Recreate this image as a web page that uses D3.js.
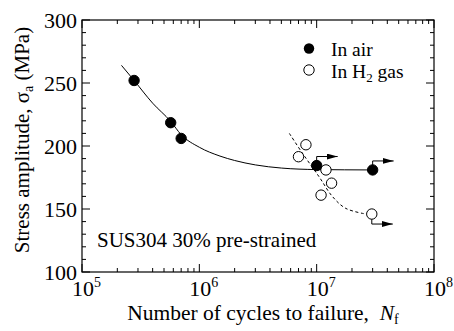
<!DOCTYPE html>
<html><head><meta charset="utf-8">
<script src="https://cdn.jsdelivr.net/npm/d3@7"></script>
<style>body{margin:0;background:#fff}svg{display:block}</style>
</head><body><svg id="c" width="454" height="331" font-family="'Liberation Serif', 'Times New Roman', Times, serif"></svg>
<script>
// Data
const airCycles = [2.78e5, 5.7e5, 7.0e5, 1.0e7, 3.0e7];
const airStress = [252, 218.5, 206, 184.5, 181];
const airRunout = [false, false, false, true, true];
const h2Cycles = [7.0e6, 8.1e6, 1.2e7, 1.34e7, 1.09e7, 2.95e7];
const h2Stress = [191.5, 201, 181, 170.5, 161, 146];
const h2Runout = [false, false, false, false, false, true];
// fitted curves
const airFitCycles = [2.17e5, 2.78e5, 4.0e5, 5.7e5, 7.0e5, 1.0e6, 1.5e6, 2.0e6, 3.0e6, 5.0e6, 1.0e7, 3.0e7];
const airFitStress = [264, 252, 234, 219.5, 209, 199, 192, 188.5, 185, 182.5, 181.3, 181];
const h2FitCycles = [5.85e6, 7.6e6, 1.05e7, 1.36e7, 1.77e7, 2.63e7];
const h2FitStress = [210, 194, 175.5, 160, 150.5, 146];
const yTicks = [100, 150, 200, 250, 300];
const xTickExp = [5, 6, 7, 8];

const svg = d3.select("#c");
const L = 82, R = 434, T = 20, B = 272;
const x = d3.scaleLog().domain([1e5, 1e8]).range([L, R]);
const y = d3.scaleLinear().domain([100, 300]).range([B, T]);

svg.append("defs").append("marker").attr("id", "ar").attr("viewBox", "0 0 11 6")
  .attr("refX", 11).attr("refY", 3).attr("markerWidth", 11).attr("markerHeight", 6)
  .attr("markerUnits", "userSpaceOnUse").attr("orient", "auto")
  .append("path").attr("d", "M0,0L11,3L0,6Z").attr("fill", "#000");

const minorX = [];
for (let e = 5; e < 8; e++) for (let k = 2; k <= 9; k++) minorX.push(k * Math.pow(10, e));
const minorY = d3.range(100, 301, 10).filter(v => v % 50 !== 0);
const g = svg.append("g").attr("stroke", "#000").attr("stroke-width", 1).attr("fill", "none");
const majX = xTickExp.map(e => Math.pow(10, e));
majX.forEach(v => {
  g.append("line").attr("x1", x(v)).attr("x2", x(v)).attr("y1", B).attr("y2", B - 8);
  g.append("line").attr("x1", x(v)).attr("x2", x(v)).attr("y1", T).attr("y2", T + 8);
});
minorX.forEach(v => {
  g.append("line").attr("x1", x(v)).attr("x2", x(v)).attr("y1", B).attr("y2", B - 4);
  g.append("line").attr("x1", x(v)).attr("x2", x(v)).attr("y1", T).attr("y2", T + 4);
});
yTicks.forEach(v => {
  g.append("line").attr("x1", L).attr("x2", L + 8).attr("y1", y(v)).attr("y2", y(v));
  g.append("line").attr("x1", R).attr("x2", R - 8).attr("y1", y(v)).attr("y2", y(v));
});
minorY.forEach(v => {
  g.append("line").attr("x1", L).attr("x2", L + 4).attr("y1", y(v)).attr("y2", y(v));
  g.append("line").attr("x1", R).attr("x2", R - 4).attr("y1", y(v)).attr("y2", y(v));
});
g.append("rect").attr("x", L).attr("y", T).attr("width", R - L).attr("height", B - T).attr("stroke-width", 1.2);

yTicks.forEach(v => {
  svg.append("text").attr("x", L - 5).attr("y", y(v) + 7.5).attr("text-anchor", "end")
    .attr("font-size", 22).text(v);
});
xTickExp.forEach(e => {
  const t = svg.append("text").attr("x", x(Math.pow(10, e)) - 10).attr("y", 296).attr("font-size", 22);
  t.append("tspan").text("10");
  t.append("tspan").attr("dy", -9).attr("font-size", 14).text(e);
});

const xt = svg.append("text").attr("x", 263).attr("y", 320).attr("text-anchor", "middle").attr("font-size", 21.5);
xt.append("tspan").text("Number of cycles to failure,\u00a0\u00a0");
xt.append("tspan").attr("font-style", "italic").text("N");
xt.append("tspan").attr("font-size", 14).attr("dy", 4).text("f");

const yt = svg.append("text").attr("transform", "translate(29,140) rotate(-90)").attr("text-anchor", "middle").attr("font-size", 21);
yt.append("tspan").text("Stress amplitude, \u03c3");
yt.append("tspan").attr("font-size", 14).attr("dy", 4).text("a");
yt.append("tspan").attr("dy", -4).text(" (MPa)");

const line = d3.line().x(d => x(d[0])).y(d => y(d[1])).curve(d3.curveMonotoneX);
svg.append("path").datum(d3.zip(airFitCycles, airFitStress)).attr("d", line)
  .attr("fill", "none").attr("stroke", "#000").attr("stroke-width", 1);
const line2 = d3.line().x(d => x(d[0])).y(d => y(d[1])).curve(d3.curveCatmullRom);
svg.append("path").datum(d3.zip(h2FitCycles, h2FitStress)).attr("d", line2)
  .attr("fill", "none").attr("stroke", "#000").attr("stroke-width", 1).attr("stroke-dasharray", "3,2.5");

function runout(cx, sy, up) {
  const px = x(cx), py = y(sy);
  const vy = up ? py - 9 : py + 10;
  svg.append("path").attr("d", `M${px},${py}L${px},${vy}L${px + 21},${vy}`)
    .attr("fill", "none").attr("stroke", "#000").attr("stroke-width", 1).attr("marker-end", "url(#ar)");
}
airCycles.forEach((c, i) => { if (airRunout[i]) runout(c, airStress[i], true); });
h2Cycles.forEach((c, i) => { if (h2Runout[i]) runout(c, h2Stress[i], false); });

svg.append("g").selectAll("circle").data(d3.zip(h2Cycles, h2Stress)).join("circle")
  .attr("cx", d => x(d[0])).attr("cy", d => y(d[1])).attr("r", 5.2)
  .attr("fill", "#fff").attr("stroke", "#000").attr("stroke-width", 1);
svg.append("g").selectAll("circle").data(d3.zip(airCycles, airStress)).join("circle")
  .attr("cx", d => x(d[0])).attr("cy", d => y(d[1])).attr("r", 5.2)
  .attr("fill", "#000").attr("stroke", "#000");

svg.append("circle").attr("cx", 309).attr("cy", 48.5).attr("r", 5.2).attr("fill", "#000");
svg.append("text").attr("x", 331).attr("y", 55.5).attr("font-size", 19.5).text("In air");
svg.append("circle").attr("cx", 309).attr("cy", 70).attr("r", 5.2).attr("fill", "#fff").attr("stroke", "#000");
const lt = svg.append("text").attr("x", 331).attr("y", 77.5).attr("font-size", 19.5);
lt.append("tspan").text("In H");
lt.append("tspan").attr("font-size", 13).attr("dy", 4).text("2");
lt.append("tspan").attr("dy", -4).text(" gas");

svg.append("text").attr("x", 97).attr("y", 247).attr("font-size", 21).text("SUS304 30% pre-strained");
</script></body></html>
